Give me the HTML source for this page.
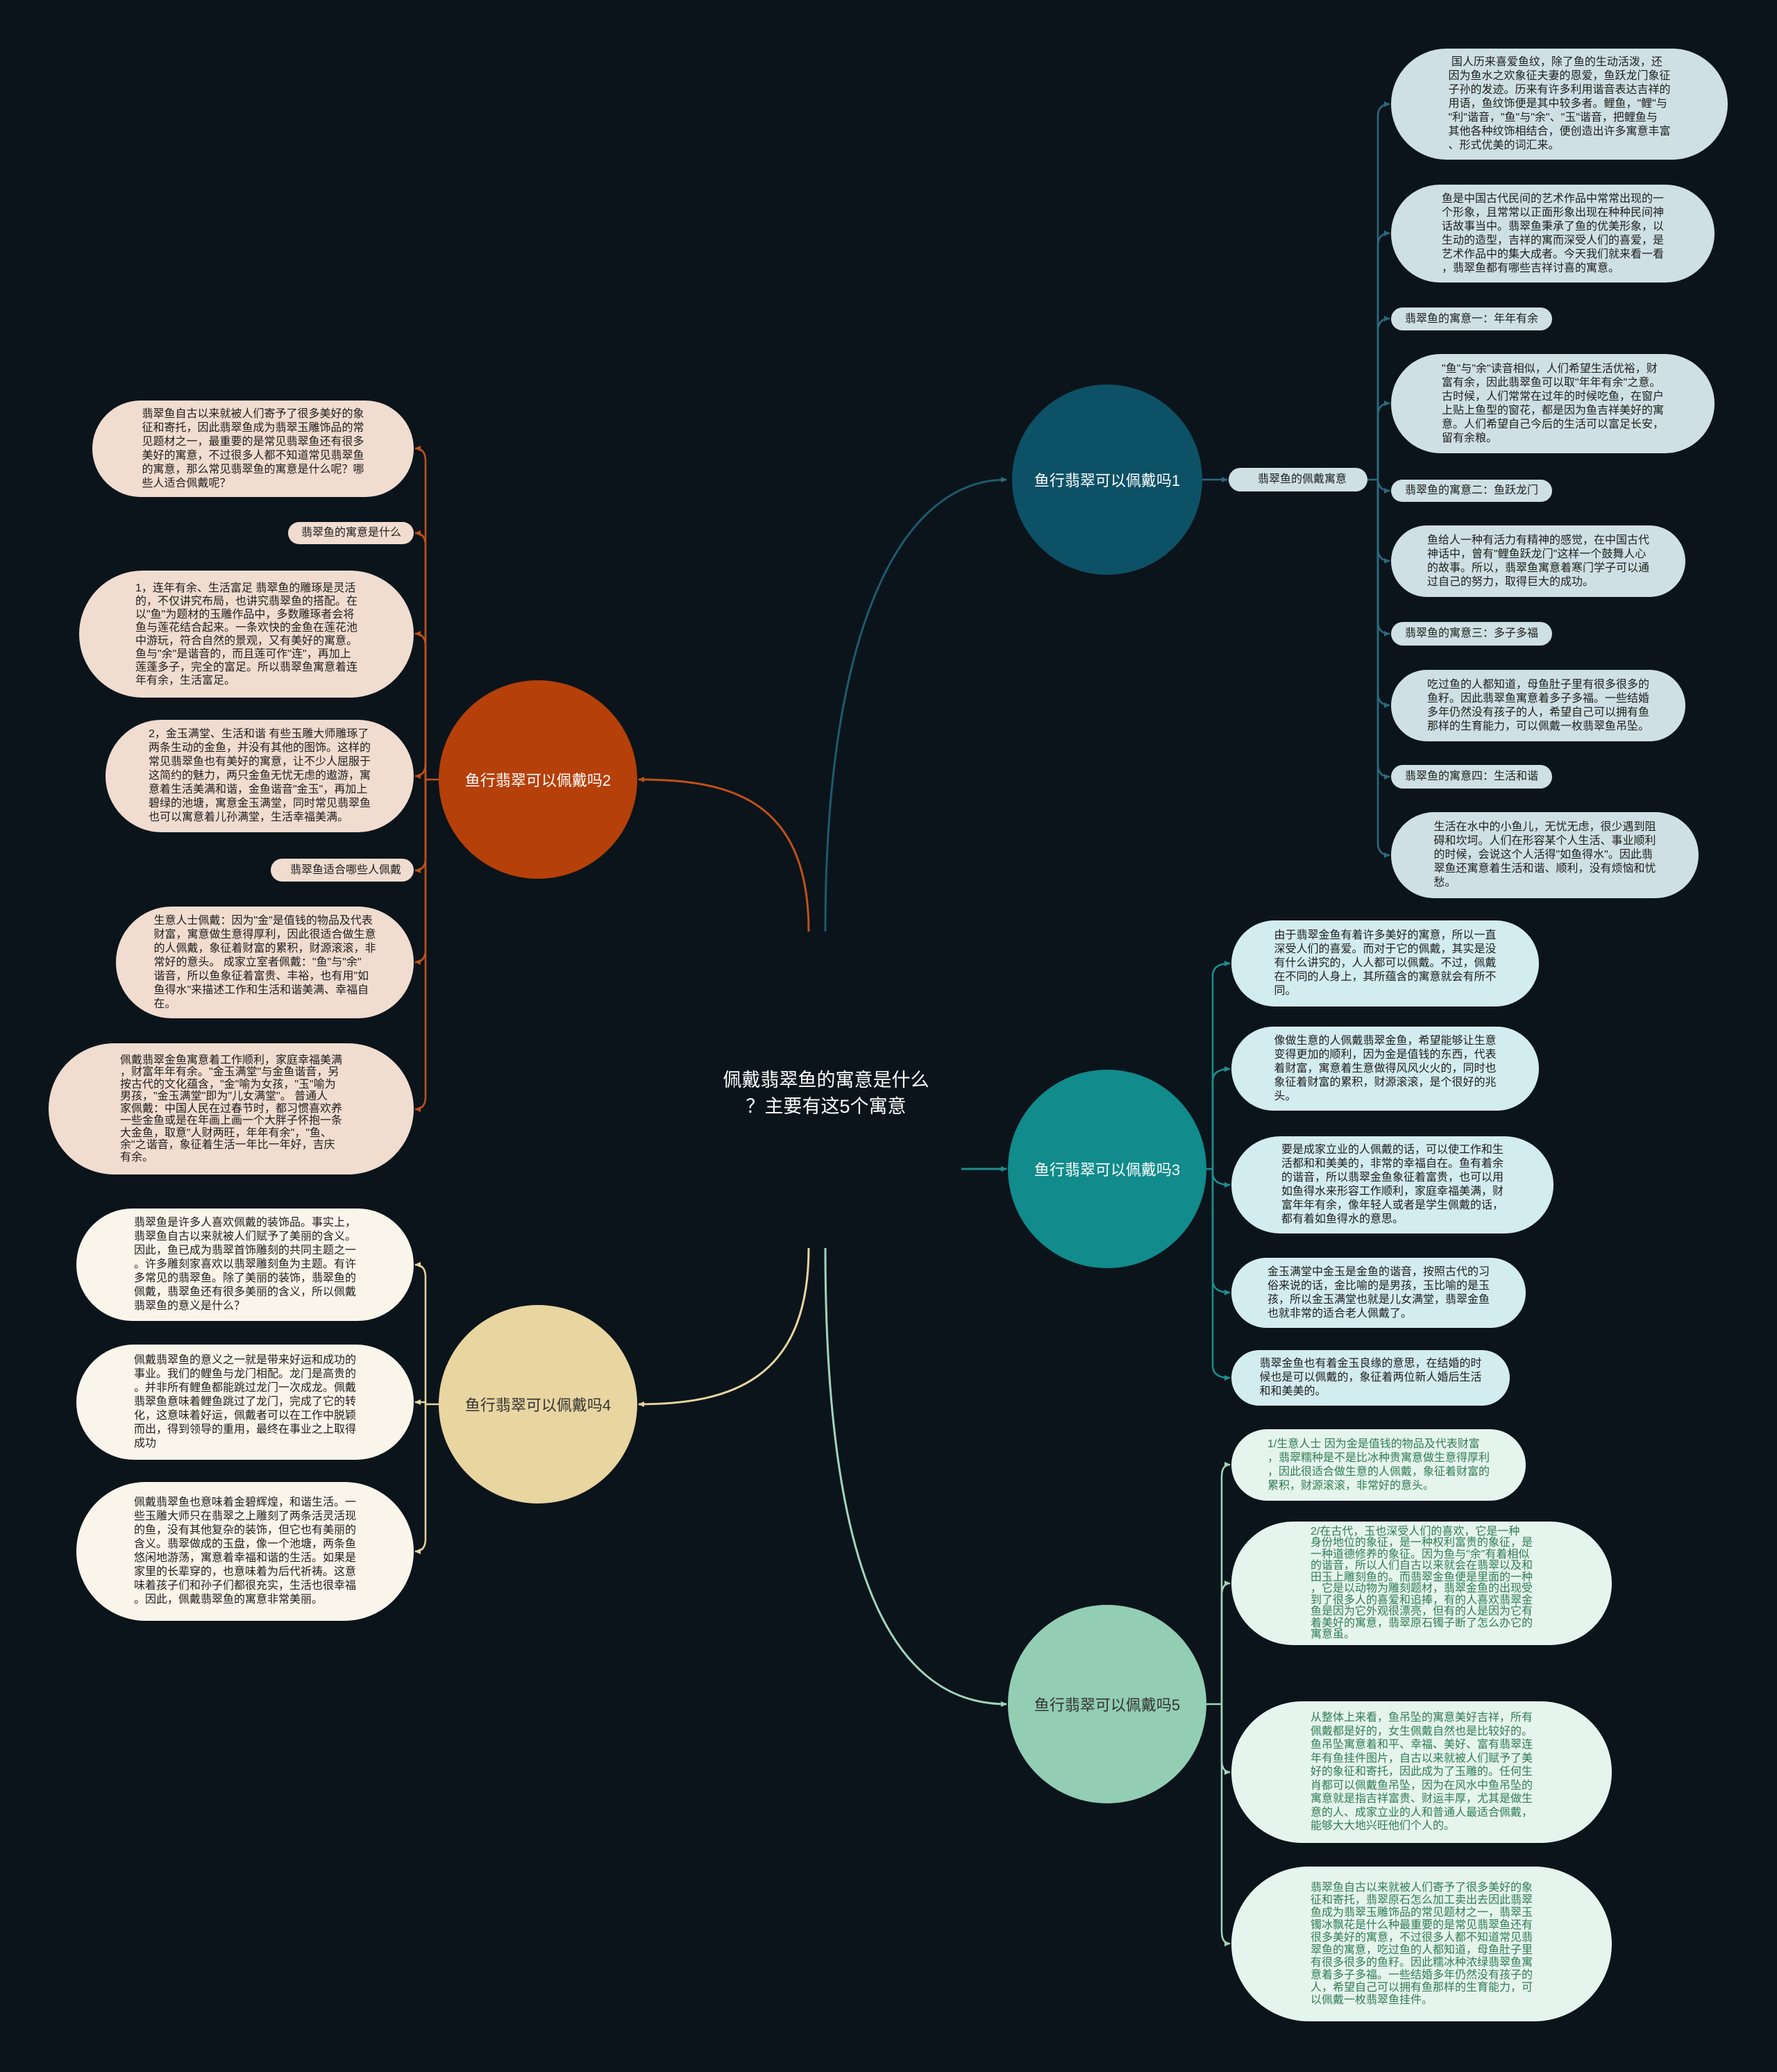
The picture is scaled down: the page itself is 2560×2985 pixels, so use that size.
<!DOCTYPE html>
<html><head><meta charset="utf-8">
<style>
*{margin:0;padding:0;box-sizing:border-box}
body{width:2560px;height:2985px;background:#0b141a;position:relative;overflow:hidden;font-family:"Liberation Sans","Noto Sans CJK SC",sans-serif}
svg{position:absolute;left:0;top:0}
.n{position:absolute;border-radius:999px;display:flex;align-items:center;justify-content:center;font-size:16px;line-height:20px;color:#1e1e1e}
.n div{text-align:left;white-space:nowrap}
.a{background:#cfe0e4}
.b{background:#f1dcd0}
.c{background:#d3ecef}
.d{background:#faf5ea}
.e{background:#e6f4ee;color:#2f7d52}
.s{justify-content:flex-end;padding-right:30px}
.ci{position:absolute;border-radius:50%;display:flex;align-items:center;justify-content:center;font-size:22px;color:#fff}
.center{position:absolute;left:1000px;top:1537px;width:380px;text-align:center;color:#fff;font-size:27px;line-height:38px}
</style></head><body>
<svg width="2560" height="2985" viewBox="0 0 2560 2985">
<defs>
<marker id="m1" markerWidth="10" markerHeight="10" refX="8" refY="5" orient="auto" markerUnits="userSpaceOnUse"><path d="M0,1 L9,5 L0,9 Z" fill="#2a6a80"/></marker>
<marker id="m2" markerWidth="10" markerHeight="10" refX="8" refY="5" orient="auto" markerUnits="userSpaceOnUse"><path d="M0,1 L9,5 L0,9 Z" fill="#c0501a"/></marker>
<marker id="m3" markerWidth="10" markerHeight="10" refX="8" refY="5" orient="auto" markerUnits="userSpaceOnUse"><path d="M0,1 L9,5 L0,9 Z" fill="#1a8f8f"/></marker>
<marker id="m4" markerWidth="10" markerHeight="10" refX="8" refY="5" orient="auto" markerUnits="userSpaceOnUse"><path d="M0,1 L9,5 L0,9 Z" fill="#e8d5a0"/></marker>
<marker id="m5" markerWidth="10" markerHeight="10" refX="8" refY="5" orient="auto" markerUnits="userSpaceOnUse"><path d="M0,1 L9,5 L0,9 Z" fill="#a0d5bd"/></marker>
</defs>
<g fill="none" stroke-width="3">
<path d="M1189 1342 C1189 900 1300 691 1450 691" stroke="#1d5a6e" marker-end="url(#m1)"/>
<path d="M1165 1342 C1165 1150 1050 1123 920 1123" stroke="#c0501a" marker-end="url(#m2)"/>
<path d="M1385 1684 L1450 1684" stroke="#1a8f8f" marker-end="url(#m3)"/>
<path d="M1165 1798 C1165 1990 1050 2023 920 2023" stroke="#e8d5a0" marker-end="url(#m4)"/>
<path d="M1189 1798 C1189 2300 1300 2455 1450 2455" stroke="#a0d5bd" marker-end="url(#m5)"/>
</g>
<g fill="none" stroke-width="2.5">
<path d="M1732 691 L1768 691" stroke="#2a6a80" marker-end="url(#m1)"/>
<g stroke="#2a6a80">
<path d="M1970 691 L1985 691"/>
<path d="M1985 691 L1985 168 Q1985 150 2002 150" marker-end="url(#m1)"/>
<path d="M1985 691 L1985 354 Q1985 336 2002 336" marker-end="url(#m1)"/>
<path d="M1985 691 L1985 477 Q1985 459 2002 459" marker-end="url(#m1)"/>
<path d="M1985 691 L1985 599 Q1985 581 2002 581" marker-end="url(#m1)"/>
<path d="M1985 691 L1985 689 Q1985 707 2002 707" marker-end="url(#m1)"/>
<path d="M1985 691 L1985 790 Q1985 808 2002 808" marker-end="url(#m1)"/>
<path d="M1985 691 L1985 895 Q1985 913 2002 913" marker-end="url(#m1)"/>
<path d="M1985 691 L1985 998 Q1985 1016 2002 1016" marker-end="url(#m1)"/>
<path d="M1985 691 L1985 1101 Q1985 1119 2002 1119" marker-end="url(#m1)"/>
<path d="M1985 691 L1985 1214 Q1985 1232 2002 1232" marker-end="url(#m1)"/>
</g>
<g stroke="#c0501a">
<path d="M632 1123 L613 1123 L613 664 Q613 646 598 646" marker-end="url(#m2)"/>
<path d="M613 1123 L613 786 Q613 768 598 768" marker-end="url(#m2)"/>
<path d="M613 1123 L613 931 Q613 913 598 913" marker-end="url(#m2)"/>
<path d="M613 1123 L613 1100 Q613 1118 598 1118" marker-end="url(#m2)"/>
<path d="M613 1123 L613 1236 Q613 1254 598 1254" marker-end="url(#m2)"/>
<path d="M613 1123 L613 1368 Q613 1386 598 1386" marker-end="url(#m2)"/>
<path d="M613 1123 L613 1580 Q613 1598 598 1598" marker-end="url(#m2)"/>
</g>
<g stroke="#1a8f8f">
<path d="M1738 1684 L1747 1684 L1747 1406 Q1747 1388 1772 1388" marker-end="url(#m3)"/>
<path d="M1747 1684 L1747 1558 Q1747 1540 1772 1540" marker-end="url(#m3)"/>
<path d="M1747 1684 L1747 1689 Q1747 1707 1772 1707" marker-end="url(#m3)"/>
<path d="M1747 1684 L1747 1844 Q1747 1862 1772 1862" marker-end="url(#m3)"/>
<path d="M1747 1684 L1747 1967 Q1747 1985 1772 1985" marker-end="url(#m3)"/>
</g>
<g stroke="#e8d5a0">
<path d="M632 2023 L613 2023 L613 1840 Q613 1822 598 1822" marker-end="url(#m4)"/>
<path d="M613 2023 L613 2020 Q613 2020 598 2020" marker-end="url(#m4)"/>
<path d="M613 2023 L613 2217 Q613 2235 598 2235" marker-end="url(#m4)"/>
</g>
<g stroke="#a0d5bd">
<path d="M1738 2455 L1760 2455 L1760 2128 Q1760 2110 1772 2110" marker-end="url(#m5)"/>
<path d="M1760 2455 L1760 2299 Q1760 2281 1772 2281" marker-end="url(#m5)"/>
<path d="M1760 2455 L1760 2535 Q1760 2553 1772 2553" marker-end="url(#m5)"/>
<path d="M1760 2455 L1760 2782 Q1760 2800 1772 2800" marker-end="url(#m5)"/>
</g>
</g>
</svg>

<div class="center">佩戴翡翠鱼的寓意是什么<br>？主要有这5个寓意</div>

<div class="ci" style="left:1458px;top:554px;width:274px;height:274px;background:#0d5166">鱼行翡翠可以佩戴吗1</div>
<div class="ci" style="left:632px;top:980px;width:286px;height:286px;background:#b5400a">鱼行翡翠可以佩戴吗2</div>
<div class="ci" style="left:1452px;top:1541px;width:286px;height:286px;background:#118b8b">鱼行翡翠可以佩戴吗3</div>
<div class="ci" style="left:632px;top:1880px;width:286px;height:286px;background:#e8d5a0;color:#333">鱼行翡翠可以佩戴吗4</div>
<div class="ci" style="left:1452px;top:2312px;width:286px;height:286px;background:#92cdb4;color:#333">鱼行翡翠可以佩戴吗5</div>

<div class="n a s" style="left:1770px;top:674px;width:200px;height:34px">翡翠鱼的佩戴寓意</div>

<div class="n a" style="left:2004px;top:70px;width:485px;height:160px"><div>&nbsp;国人历来喜爱鱼纹，除了鱼的生动活泼，还<br>因为鱼水之欢象征夫妻的恩爱，鱼跃龙门象征<br>子孙的发迹。历来有许多利用谐音表达吉祥的<br>用语，鱼纹饰便是其中较多者。鲤鱼，"鲤"与<br>"利"谐音，"鱼"与"余"、"玉"谐音，把鲤鱼与<br>其他各种纹饰相结合，便创造出许多寓意丰富<br>、形式优美的词汇来。</div></div>
<div class="n a" style="left:2004px;top:266px;width:466px;height:141px"><div>鱼是中国古代民间的艺术作品中常常出现的一<br>个形象，且常常以正面形象出现在种种民间神<br>话故事当中。翡翠鱼秉承了鱼的优美形象，以<br>生动的造型，吉祥的寓而深受人们的喜爱，是<br>艺术作品中的集大成者。今天我们就来看一看<br>，翡翠鱼都有哪些吉祥讨喜的寓意。</div></div>
<div class="n a" style="left:2004px;top:443px;width:232px;height:33px"><div>翡翠鱼的寓意一：年年有余</div></div>
<div class="n a" style="left:2004px;top:510px;width:466px;height:143px"><div>"鱼"与"余"读音相似，人们希望生活优裕，财<br>富有余，因此翡翠鱼可以取"年年有余"之意。<br>古时候，人们常常在过年的时候吃鱼，在窗户<br>上贴上鱼型的窗花，都是因为鱼吉祥美好的寓<br>意。人们希望自己今后的生活可以富足长安，<br>留有余粮。</div></div>
<div class="n a" style="left:2004px;top:691px;width:232px;height:32px"><div>翡翠鱼的寓意二：鱼跃龙门</div></div>
<div class="n a" style="left:2004px;top:757px;width:424px;height:103px"><div>鱼给人一种有活力有精神的感觉，在中国古代<br>神话中，曾有"鲤鱼跃龙门"这样一个鼓舞人心<br>的故事。所以，翡翠鱼寓意着寒门学子可以通<br>过自己的努力，取得巨大的成功。</div></div>
<div class="n a" style="left:2004px;top:896px;width:232px;height:34px"><div>翡翠鱼的寓意三：多子多福</div></div>
<div class="n a" style="left:2004px;top:965px;width:424px;height:103px"><div>吃过鱼的人都知道，母鱼肚子里有很多很多的<br>鱼籽。因此翡翠鱼寓意着多子多福。一些结婚<br>多年仍然没有孩子的人，希望自己可以拥有鱼<br>那样的生育能力，可以佩戴一枚翡翠鱼吊坠。</div></div>
<div class="n a" style="left:2004px;top:1102px;width:232px;height:34px"><div>翡翠鱼的寓意四：生活和谐</div></div>
<div class="n a" style="left:2004px;top:1170px;width:443px;height:124px"><div>生活在水中的小鱼儿，无忧无虑，很少遇到阻<br>碍和坎坷。人们在形容某个人生活、事业顺利<br>的时候，会说这个人活得"如鱼得水"。因此翡<br>翠鱼还寓意着生活和谐、顺利，没有烦恼和忧<br>愁。</div></div>

<div class="n c" style="left:1774px;top:1326px;width:443px;height:124px"><div>由于翡翠金鱼有着许多美好的寓意，所以一直<br>深受人们的喜爱。而对于它的佩戴，其实是没<br>有什么讲究的，人人都可以佩戴。不过，佩戴<br>在不同的人身上，其所蕴含的寓意就会有所不<br>同。</div></div>
<div class="n c" style="left:1774px;top:1479px;width:443px;height:121px"><div>像做生意的人佩戴翡翠金鱼，希望能够让生意<br>变得更加的顺利，因为金是值钱的东西，代表<br>着财富，寓意着生意做得风风火火的，同时也<br>象征着财富的累积，财源滚滚，是个很好的兆<br>头。</div></div>
<div class="n c" style="left:1774px;top:1637px;width:464px;height:140px"><div>要是成家立业的人佩戴的话，可以使工作和生<br>活都和和美美的，非常的幸福自在。鱼有着余<br>的谐音，所以翡翠金鱼象征着富贵，也可以用<br>如鱼得水来形容工作顺利，家庭幸福美满，财<br>富年年有余，像年轻人或者是学生佩戴的话，<br>都有着如鱼得水的意思。</div></div>
<div class="n c" style="left:1774px;top:1812px;width:424px;height:101px"><div>金玉满堂中金玉是金鱼的谐音，按照古代的习<br>俗来说的话，金比喻的是男孩，玉比喻的是玉<br>孩，所以金玉满堂也就是儿女满堂，翡翠金鱼<br>也就非常的适合老人佩戴了。</div></div>
<div class="n c" style="left:1774px;top:1945px;width:401px;height:80px"><div>翡翠金鱼也有着金玉良缘的意思，在结婚的时<br>候也是可以佩戴的，象征着两位新人婚后生活<br>和和美美的。</div></div>

<div class="n e" style="left:1774px;top:2059px;width:424px;height:103px"><div>1/生意人士 因为金是值钱的物品及代表财富<br>，翡翠糯种是不是比冰种贵寓意做生意得厚利<br>，因此很适合做生意的人佩戴，象征着财富的<br>累积，财源滚滚，非常好的意头。</div></div>
<div class="n e" style="left:1774px;top:2192px;width:548px;height:178px;line-height:16.5px"><div>2/在古代，玉也深受人们的喜欢，它是一种<br>身份地位的象征，是一种权利富贵的象征，是<br>一种道德修养的象征。因为鱼与"余"有着相似<br>的谐音，所以人们自古以来就会在翡翠以及和<br>田玉上雕刻鱼的。而翡翠金鱼便是里面的一种<br>，它是以动物为雕刻题材，翡翠金鱼的出现受<br>到了很多人的喜爱和追捧，有的人喜欢翡翠金<br>鱼是因为它外观很漂亮，但有的人是因为它有<br>着美好的寓意，翡翠原石镯子断了怎么办它的<br>寓意虽。</div></div>
<div class="n e" style="left:1774px;top:2451px;width:548px;height:204px;line-height:19.5px"><div>从整体上来看，鱼吊坠的寓意美好吉祥，所有<br>佩戴都是好的，女生佩戴自然也是比较好的。<br>鱼吊坠寓意着和平、幸福、美好、富有翡翠连<br>年有鱼挂件图片，自古以来就被人们赋予了美<br>好的象征和寄托，因此成为了玉雕的。任何生<br>肖都可以佩戴鱼吊坠，因为在风水中鱼吊坠的<br>寓意就是指吉祥富贵、财运丰厚，尤其是做生<br>意的人、成家立业的人和普通人最适合佩戴，<br>能够大大地兴旺他们个人的。</div></div>
<div class="n e" style="left:1774px;top:2689px;width:548px;height:223px;line-height:18px"><div>翡翠鱼自古以来就被人们寄予了很多美好的象<br>征和寄托，翡翠原石怎么加工卖出去因此翡翠<br>鱼成为翡翠玉雕饰品的常见题材之一，翡翠玉<br>镯冰飘花是什么种最重要的是常见翡翠鱼还有<br>很多美好的寓意，不过很多人都不知道常见翡<br>翠鱼的寓意，吃过鱼的人都知道，母鱼肚子里<br>有很多很多的鱼籽。因此糯冰种浓绿翡翠鱼寓<br>意着多子多福。一些结婚多年仍然没有孩子的<br>人，希望自己可以拥有鱼那样的生育能力，可<br>以佩戴一枚翡翠鱼挂件。</div></div>

<div class="n b" style="left:133px;top:577px;width:463px;height:139px"><div>翡翠鱼自古以来就被人们寄予了很多美好的象<br>征和寄托，因此翡翠鱼成为翡翠玉雕饰品的常<br>见题材之一，最重要的是常见翡翠鱼还有很多<br>美好的寓意，不过很多人都不知道常见翡翠鱼<br>的寓意，那么常见翡翠鱼的寓意是什么呢？哪<br>些人适合佩戴呢？</div></div>
<div class="n b s" style="left:415px;top:752px;width:181px;height:32px;padding-right:18px">翡翠鱼的寓意是什么</div>
<div class="n b" style="left:114px;top:822px;width:482px;height:183px;line-height:19px"><div>1，连年有余、生活富足 翡翠鱼的雕琢是灵活<br>的，不仅讲究布局，也讲究翡翠鱼的搭配。在<br>以"鱼"为题材的玉雕作品中，多数雕琢者会将<br>鱼与莲花结合起来。一条欢快的金鱼在莲花池<br>中游玩，符合自然的景观，又有美好的寓意。<br>鱼与"余"是谐音的，而且莲可作"连"，再加上<br>莲蓬多子，完全的富足。所以翡翠鱼寓意着连<br>年有余，生活富足。</div></div>
<div class="n b" style="left:152px;top:1037px;width:444px;height:162px"><div>2，金玉满堂、生活和谐 有些玉雕大师雕琢了<br>两条生动的金鱼，并没有其他的图饰。这样的<br>常见翡翠鱼也有美好的寓意，让不少人屈服于<br>这简约的魅力，两只金鱼无忧无虑的遨游，寓<br>意着生活美满和谐，金鱼谐音"金玉"，再加上<br>碧绿的池塘，寓意金玉满堂，同时常见翡翠鱼<br>也可以寓意着儿孙满堂，生活幸福美满。</div></div>
<div class="n b s" style="left:390px;top:1237px;width:206px;height:33px;padding-right:18px">翡翠鱼适合哪些人佩戴</div>
<div class="n b" style="left:167px;top:1306px;width:429px;height:161px"><div>生意人士佩戴：因为"金"是值钱的物品及代表<br>财富，寓意做生意得厚利，因此很适合做生意<br>的人佩戴，象征着财富的累积，财源滚滚，非<br>常好的意头。 成家立室者佩戴："鱼"与"余"<br>谐音，所以鱼象征着富贵、丰裕，也有用"如<br>鱼得水"来描述工作和生活和谐美满、幸福自<br>在。</div></div>
<div class="n b" style="left:70px;top:1503px;width:526px;height:189px;line-height:17.5px"><div>佩戴翡翠金鱼寓意着工作顺利，家庭幸福美满<br>，财富年年有余。"金玉满堂"与金鱼谐音，另<br>按古代的文化蕴含，"金"喻为女孩，"玉"喻为<br>男孩，"金玉满堂"即为"儿女满堂"。 普通人<br>家佩戴：中国人民在过春节时，都习惯喜欢养<br>一些金鱼或是在年画上画一个大胖子怀抱一条<br>大金鱼，取意"人财两旺，年年有余"，"鱼、<br>余"之谐音，象征着生活一年比一年好，吉庆<br>有余。</div></div>

<div class="n d" style="left:110px;top:1741px;width:486px;height:162px"><div>翡翠鱼是许多人喜欢佩戴的装饰品。事实上，<br>翡翠鱼自古以来就被人们赋予了美丽的含义。<br>因此，鱼已成为翡翠首饰雕刻的共同主题之一<br>。许多雕刻家喜欢以翡翠雕刻鱼为主题。有许<br>多常见的翡翠鱼。除了美丽的装饰，翡翠鱼的<br>佩戴，翡翠鱼还有很多美丽的含义，所以佩戴<br>翡翠鱼的意义是什么？</div></div>
<div class="n d" style="left:110px;top:1937px;width:486px;height:166px"><div>佩戴翡翠鱼的意义之一就是带来好运和成功的<br>事业。我们的鲤鱼与龙门相配。龙门是高贵的<br>。并非所有鲤鱼都能跳过龙门一次成龙。佩戴<br>翡翠鱼意味着鲤鱼跳过了龙门，完成了它的转<br>化，这意味着好运，佩戴者可以在工作中脱颖<br>而出，得到领导的重用，最终在事业之上取得<br>成功</div></div>
<div class="n d" style="left:110px;top:2135px;width:486px;height:200px"><div>佩戴翡翠鱼也意味着金碧辉煌，和谐生活。一<br>些玉雕大师只在翡翠之上雕刻了两条活灵活现<br>的鱼，没有其他复杂的装饰，但它也有美丽的<br>含义。翡翠做成的玉盘，像一个池塘，两条鱼<br>悠闲地游荡，寓意着幸福和谐的生活。如果是<br>家里的长辈穿的，也意味着为后代祈祷。这意<br>味着孩子们和孙子们都很充实，生活也很幸福<br>。因此，佩戴翡翠鱼的寓意非常美丽。</div></div>
</body></html>
